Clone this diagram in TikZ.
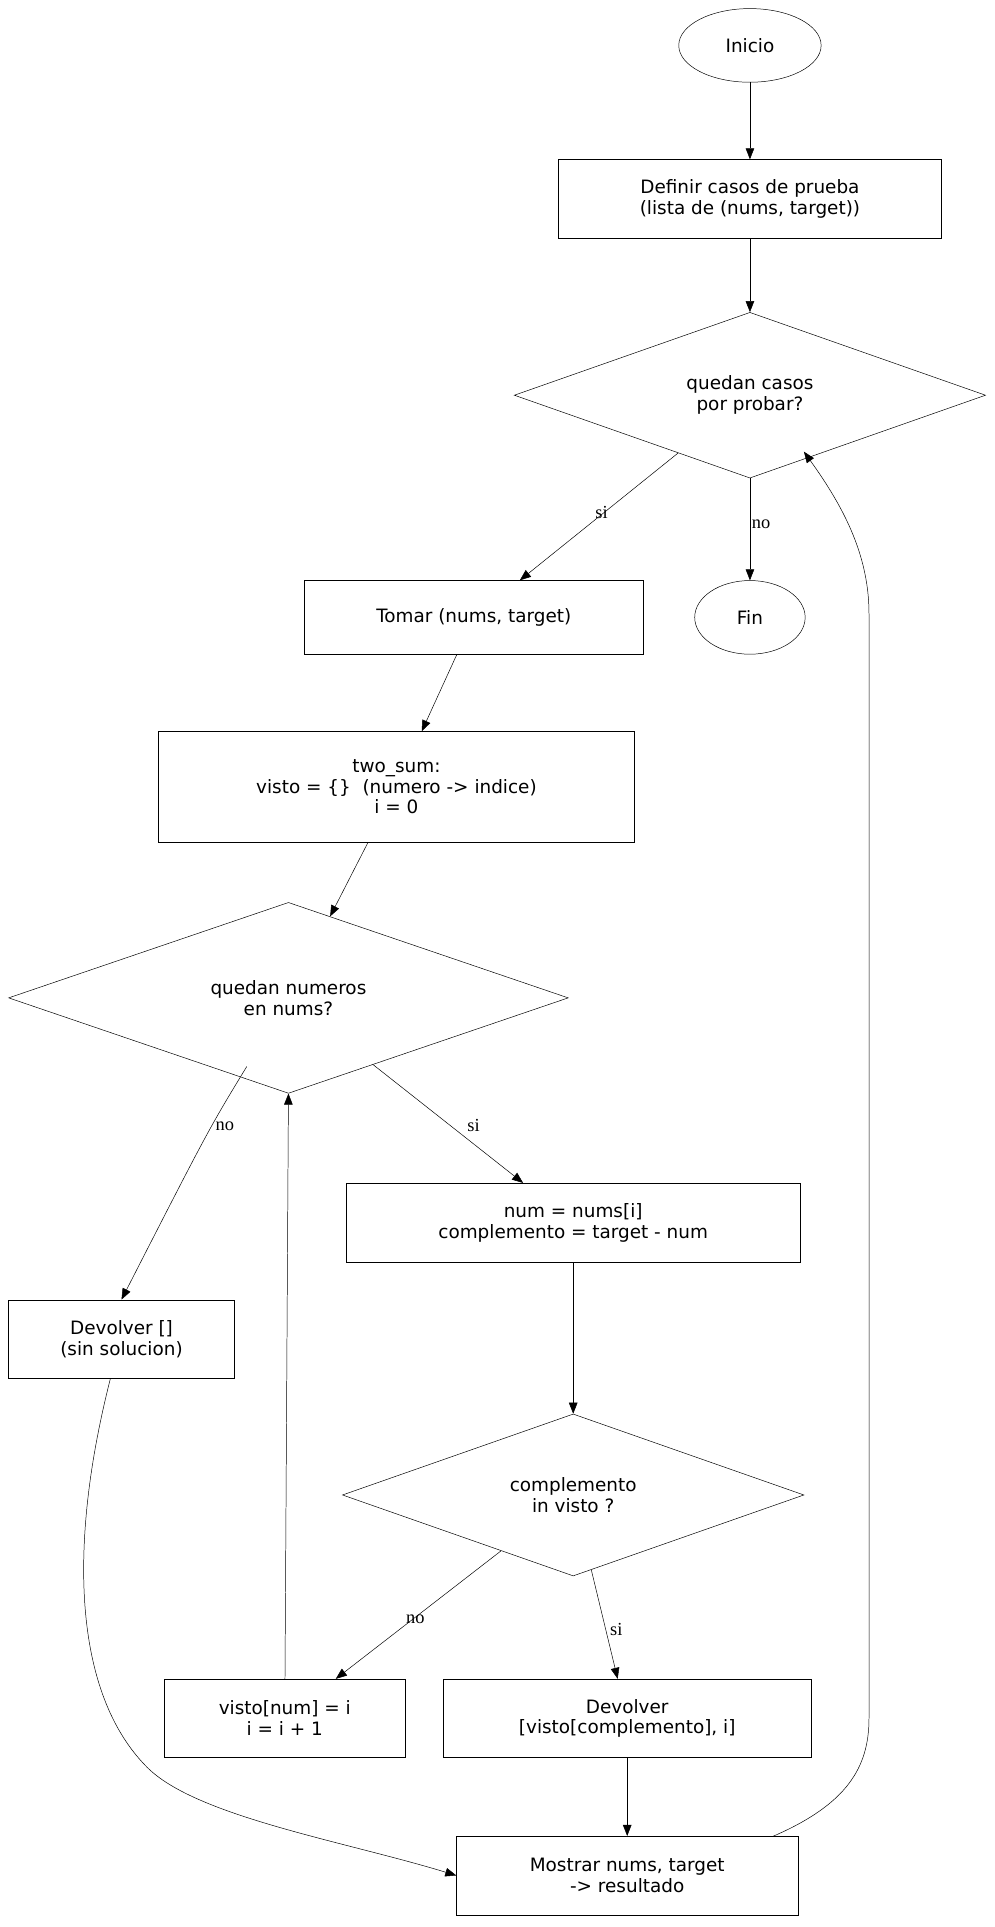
\documentclass[tikz,border=0pt]{standalone}
\usepackage{fontspec}
\setmainfont{DejaVu Sans}
\newfontfamily\lblfont{Liberation Serif}
\usetikzlibrary{shapes.geometric, arrows.meta}

\begin{document}
\begin{tikzpicture}[
    x = 1pt, y = -1pt,
    >= {Triangle[length=9pt, width=7pt]},
    font = \fontsize{15}{17}\selectfont,
    action/.style = {rectangle, draw, align = center, inner sep = 0pt},
    check/.style = {diamond, draw, align = center, inner sep = 0pt},
    term/.style = {ellipse, draw, inner sep = 0pt},
    lbl/.style = {font = \lblfont\fontsize{15}{17}\selectfont}
    ]
    \useasboundingbox (0, 0) rectangle (810, 1570);

    \node at (611, 37) [term, minimum width = 116, minimum height = 60, name = start] {Inicio};
    \node at (611, 162) [action, minimum width = 312, minimum height = 64, name = cases] {Definir casos de prueba\\(lista de (nums, target))};
    \node at (611, 322) [check, minimum width = 384, minimum height = 128, name = more] {quedan casos\\por probar?};
    \node at (386, 503) [action, minimum width = 276, minimum height = 60, name = take] {Tomar (nums, target)};
    \node at (611, 503) [term, minimum width = 90, minimum height = 60, name = stop] {Fin};
    \node at (323, 641) [action, minimum width = 388, minimum height = 90, name = init] {two\_sum:\\visto = \{\}~~(numero -> indice)\\i = 0};
    \node at (235, 813) [check, minimum width = 456, minimum height = 128, name = left] {quedan numeros\\en nums?};
    \node at (467, 996) [action, minimum width = 370, minimum height = 64, name = comp] {num = nums[i]\\complemento = target - num};
    \node at (99, 1091) [action, minimum width = 184, minimum height = 64, name = empty] {Devolver []\\(sin solucion)};
    \node at (467, 1218) [check, minimum width = 376, minimum height = 128, name = seen] {complemento\\in visto ?};
    \node at (232, 1400) [action, minimum width = 196, minimum height = 64, name = store] {visto[num] = i\\i = i + 1};
    \node at (511, 1400) [action, minimum width = 300, minimum height = 64, name = found] {Devolver\\{}[visto[complemento], i]};
    \node at (511, 1528) [action, minimum width = 278, minimum height = 64, name = show] {Mostrar nums, target\\-> resultado};

    \draw [->] (start) -- (cases);
    \draw [->] (cases) -- (more);
    \draw [->] (more) -- node [lbl, pos = 0.55, above right] {si} (take);
    \draw [->] (more) -- node [lbl, pos = 0.45, right = -2pt] {no} (stop);
    \draw [->] (take) -- (init);
    \draw [->] (init) -- (left);
    \draw [->] (left) -- node [lbl, pos = 0.6, above right] {si} (comp);
    \draw [->] (201, 869) .. controls (170, 920) .. node [lbl, pos = 0.4, right] {no} (empty.north);
    \draw [->] (comp) -- (seen);
    \draw [->] (seen) -- node [lbl, pos = 0.6, above right] {no} (store);
    \draw [->] (seen) -- node [lbl, pos = 0.55, right] {si} (found);
    \draw [->] (store) -- (left.south);
    \draw [->] (found) -- (show);
    \draw [->] (90, 1123) .. controls (55, 1260) and (60, 1380) .. (120, 1440)
        .. controls (160, 1480) and (280, 1500) .. (show.west);
    \draw [->] (630, 1496) .. controls (690, 1470) and (708, 1440) .. (708, 1400)
        -- (708, 500) .. controls (708, 450) and (685, 410) .. (655, 368);
\end{tikzpicture}
\end{document}
